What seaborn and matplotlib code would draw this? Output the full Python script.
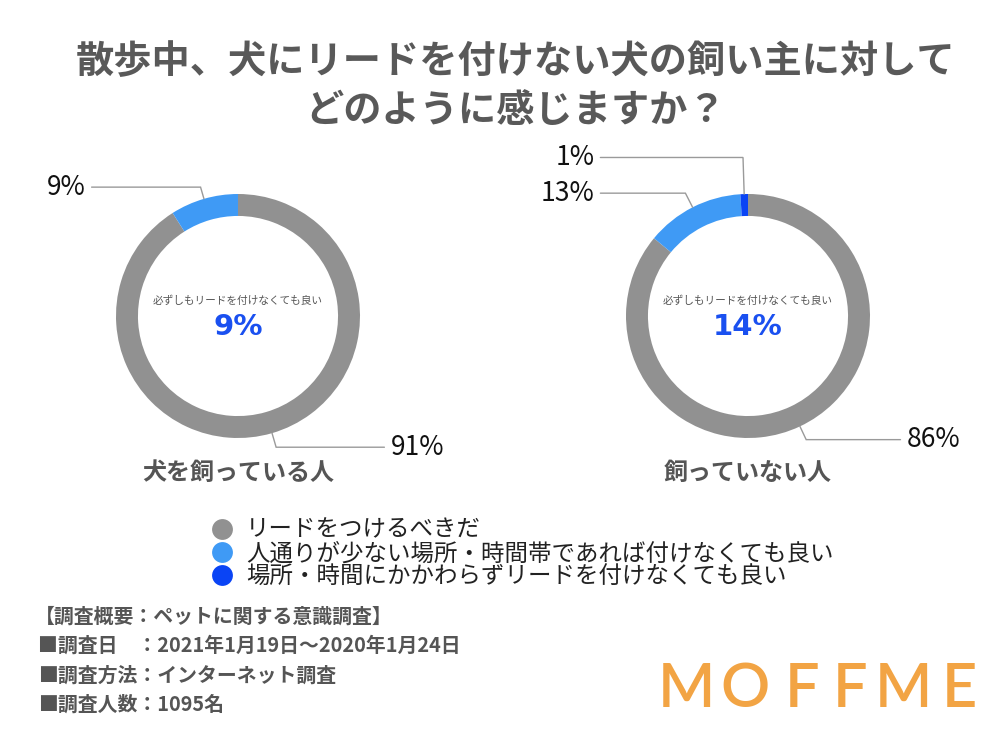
import numpy as np
import matplotlib
matplotlib.use('Agg')
import matplotlib.pyplot as plt
from matplotlib.lines import Line2D
import seaborn as sns

sns.set_theme(style='white')
plt.rcParams['font.family'] = ['Noto Sans CJK JP', 'DejaVu Sans']

# data
title = '散歩中、犬にリードを付けない犬の飼い主に対して\nどのように感じますか？'
categories = ['リードをつけるべきだ',
              '人通りが少ない場所・時間帯であれば付けなくても良い',
              '場所・時間にかかわらずリードを付けなくても良い']
groups = ['犬を飼っている人', '飼っていない人']
owners = [91, 9, 0]
non_owners = [86, 13, 1]
center_caption = '必ずしもリードを付けなくても良い'
notes = ['【調査概要：ペットに関する意識調査】',
         '■調査日　：2021年1月19日～2020年1月24日',
         '■調査方法：インターネット調査',
         '■調査人数：1095名']

colors = ['#919191', '#3f9af5', '#0a44f5']
text_gray = '#555555'
line_gray = '#9a9a9a'

fig = plt.figure(figsize=(10, 7.49), dpi=100)
fig.patch.set_facecolor('white')

fig.text(0.516, 1 - 86 / 749, title, ha='center', va='center', fontsize=27.5,
         fontweight='bold', color='#595959', linespacing=1.32)

# leader layout per wedge: (elbow radius, line end x, text side)
layouts = [
    [(1.12, 1.2, 'left'), (1.10, -1.2, 'right'), None],
    [(1.12, 1.25, 'left'), (1.13, -1.21, 'right'), (1.30, -1.21, 'right')],
]
centers_px = [238, 748]

for i, (vals, grp) in enumerate(zip([owners, non_owners], groups)):
    cx = centers_px[i]
    ax = fig.add_axes([(cx - 122) / 1000, (749 - 438) / 749, 0.244, 244 / 749])
    wedges, _ = ax.pie(vals, colors=colors, startangle=90, counterclock=False,
                       radius=1, wedgeprops=dict(width=0.18, edgecolor='none'))
    ax.set_xlim(-1, 1)
    ax.set_ylim(-1, 1)
    ax.set_aspect('equal')
    ax.axis('off')

    for w, v, lay in zip(wedges, vals, layouts[i]):
        if lay is None or v == 0:
            continue
        r_el, x_end, side = lay
        ang = np.deg2rad((w.theta1 + w.theta2) / 2)
        x0, y0 = np.cos(ang), np.sin(ang)
        x1, y1 = r_el * np.cos(ang), r_el * np.sin(ang)
        ax.plot([x0, x1, x_end], [y0, y1, y1], color=line_gray, lw=1,
                clip_on=False, solid_joinstyle='miter')
        if side == 'left':
            ax.text(x_end + 0.05, y1, f'{v}%', ha='left', va='center',
                    fontsize=19, color='#111111')
        else:
            ax.text(x_end - 0.05, y1, f'{v}%', ha='right', va='center',
                    fontsize=19, color='#111111')

    ax.text(0, 0.13, center_caption, ha='center', va='center', fontsize=7.7,
            color=text_gray)
    ax.text(0, -0.09, f'{sum(vals[1:])}%', ha='center', va='center',
            fontsize=21, fontweight='bold', color='#1a50f0',
            family=['DejaVu Sans'])
    ax.text(0, -1.29, grp, ha='center', va='center', fontsize=17.3,
            fontweight='bold', color=text_gray)

handles = [Line2D([], [], marker='o', linestyle='none', markersize=15,
                  markerfacecolor=c, markeredgecolor='none') for c in colors]
fig.legend(handles, categories, loc='upper left',
           bbox_to_anchor=(0.199, 1 - 507 / 749), frameon=False,
           fontsize=16.9, labelspacing=0.02, handletextpad=0.5,
           handlelength=1.0, borderpad=0, labelcolor='#222222')

for k, note in enumerate(notes):
    x = 0.035 if k == 0 else 0.038
    fig.text(x, 1 - (616 + 29.5 * k) / 749, note, ha='left', va='center',
             fontsize=14.3, fontweight='bold', color=text_gray)

# logo
for ch, xp in zip('MOFFME', [686, 745, 802, 850, 903, 959]):
    fig.text(xp / 1000, 1 - 689 / 749, ch, ha='center', va='center',
             fontsize=44, fontweight='semibold', color='#f2a444',
             family=['Lato', 'DejaVu Sans'])

fig.savefig('out.png', dpi=100, facecolor='white')
